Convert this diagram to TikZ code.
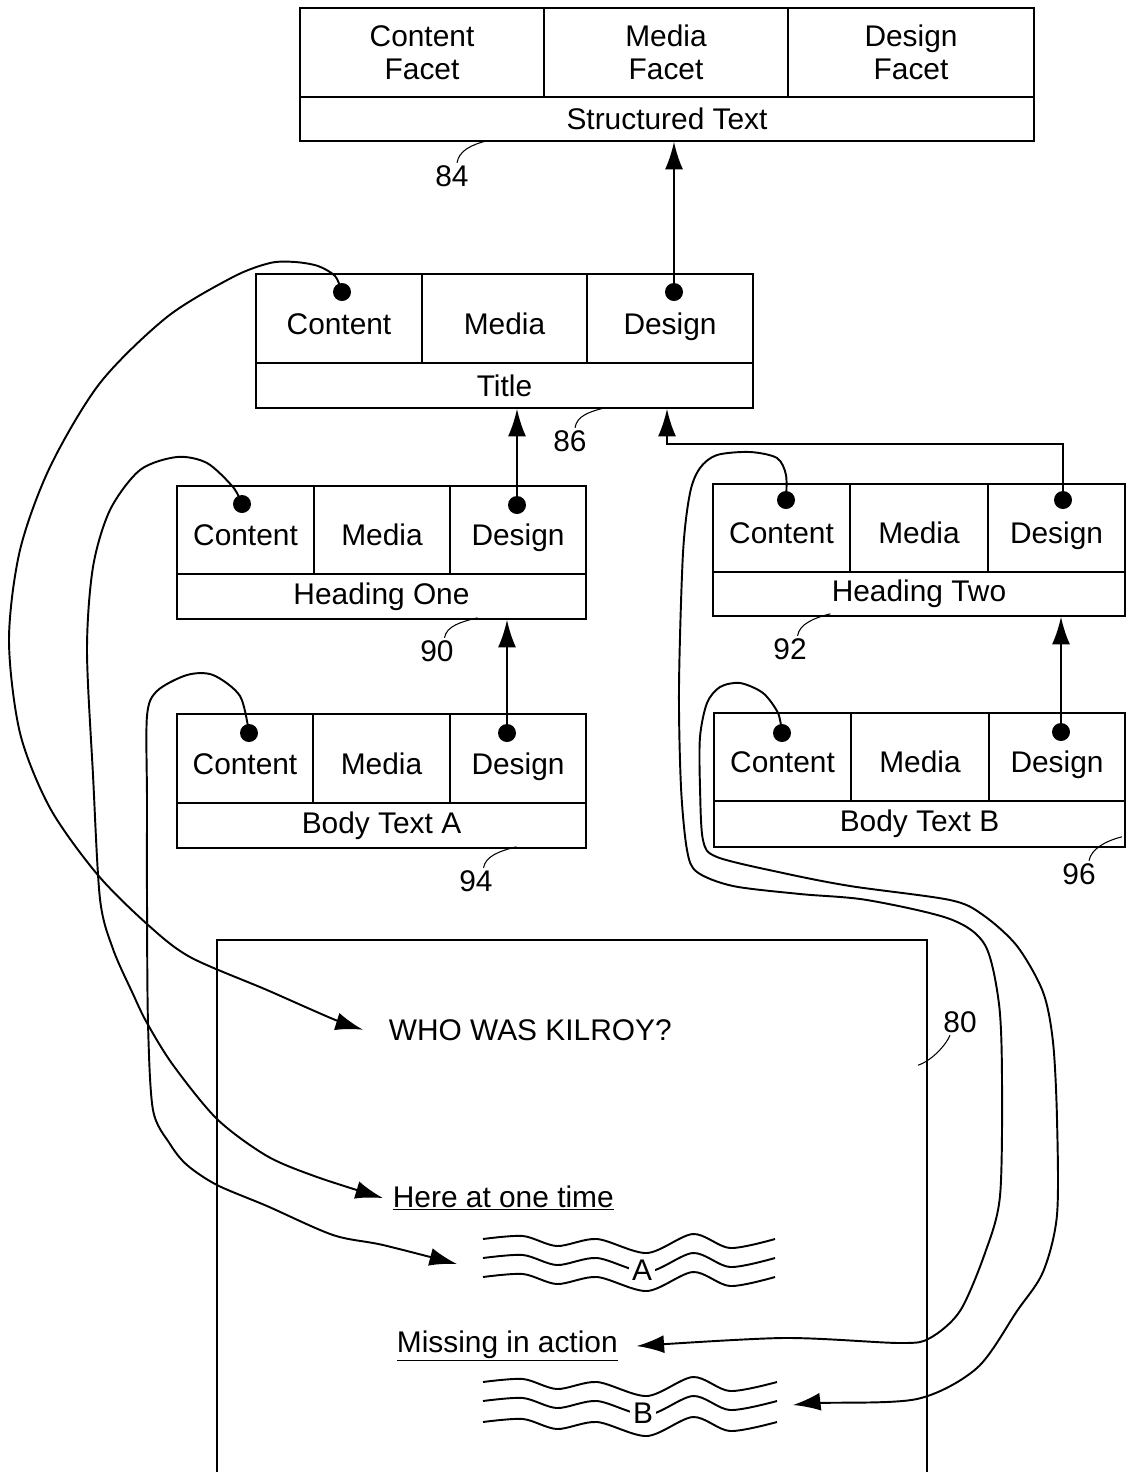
\documentclass[tikz,border=0pt]{standalone}
\usepackage{fontspec}
\setmainfont{Liberation Sans}
\usetikzlibrary{arrows.meta}
\tikzset{every picture/.style={line width=1pt}}

\begin{document}
\begin{tikzpicture}
    [x=0.2mm, y=-0.2mm,
    facet/.style = {rectangle, draw, align=center, inner sep=0pt,
            minimum height=17.8mm, font=\fontsize{17}{19}\selectfont},
    cell/.style = {rectangle, draw, inner sep=0pt, minimum height=17.8mm,
            text height=7.6mm, text depth=1.3mm, font=\fontsize{17}{20}\selectfont},
    bar/.style = {rectangle, draw, inner sep=0pt, minimum height=9mm,
            font=\fontsize{17}{20}\selectfont},
    dot/.style = {circle, fill, inner sep=0pt, minimum size=3.6mm},
    arr/.style = {-{Latex[length=5.5mm, width=3.6mm]}},
    link/.style = {arr, line width=1.1pt},
    wave/.style = {line width=1.1pt},
    lbl/.style = {inner sep=1pt, font=\fontsize{17}{20}\selectfont},
    leader/.style = {line width=0.6pt},
    ]

\useasboundingbox (0,0) rectangle (1126,1472);

% structured text
\node[facet, minimum width=48.8mm] (stc) at (422, 52.5) {Content\\Facet};
\node[facet, minimum width=48.8mm] (stm) at (666, 52.5) {Media\\Facet};
\node[facet, minimum width=49.2mm] (std) at (911, 52.5) {Design\\Facet};
\node[bar, minimum width=146.8mm, minimum height=8.8mm] (st) at (667, 119) {Structured Text};

% title
\node[cell, minimum width=33.2mm] (tc) at (339, 318.5) {Content};
\node[cell, minimum width=33mm] (tm) at (504.5, 318.5) {Media};
\node[cell, minimum width=33.2mm] (td) at (670, 318.5) {Design};
\node[bar, minimum width=99.4mm] (t) at (504.5, 385.5) {Title};

% heading one
\node[cell, minimum width=27.4mm, minimum height=17.6mm] (h1c) at (245.5, 530) {Content};
\node[cell, minimum width=27.2mm, minimum height=17.6mm] (h1m) at (382, 530) {Media};
\node[cell, minimum width=27.2mm, minimum height=17.6mm] (h1d) at (518, 530) {Design};
\node[bar, minimum width=81.8mm] (h1) at (381.5, 596.5) {Heading One};

% heading two
\node[cell, minimum width=27.4mm, minimum height=17.6mm] (h2c) at (781.5, 528) {Content};
\node[cell, minimum width=27.6mm, minimum height=17.6mm] (h2m) at (919, 528) {Media};
\node[cell, minimum width=27.4mm, minimum height=17.6mm] (h2d) at (1056.5, 528) {Design};
\node[bar, minimum width=82.4mm, minimum height=8.8mm] (h2) at (919, 594) {Heading Two};

% body text a
\node[cell, minimum width=27.2mm] (bac) at (245, 758.5) {Content};
\node[cell, minimum width=27.4mm] (bam) at (381.5, 758.5) {Media};
\node[cell, minimum width=27.2mm] (bad) at (518, 758.5) {Design};
\node[bar, minimum width=81.8mm] (ba) at (381.5, 825.5) {Body Text A};

% body text b
\node[cell, minimum width=27.4mm, minimum height=17.6mm] (bbc) at (782.5, 757) {Content};
\node[cell, minimum width=27.6mm, minimum height=17.6mm] (bbm) at (920, 757) {Media};
\node[cell, minimum width=27.2mm, minimum height=17.6mm] (bbd) at (1057, 757) {Design};
\node[bar, minimum width=82.2mm, minimum height=9.2mm] (bb) at (919.5, 824) {Body Text B};

\node[dot] (tcd) at (342, 292) {};
\node[dot] (tdd) at (674, 292) {};
\node[dot] (h1cd) at (242, 504) {};
\node[dot] (h1dd) at (517, 505) {};
\node[dot] (h2cd) at (786, 500) {};
\node[dot] (h2dd) at (1063, 500) {};
\node[dot] (bacd) at (249, 733) {};
\node[dot] (badd) at (507, 733) {};
\node[dot] (bbcd) at (782, 733) {};
\node[dot] (bbdd) at (1061, 732) {};

\draw[arr] (tdd.center) -- (tdd |- st.south);
\draw[arr] (h1dd.center) -- (h1dd |- t.south);
\draw[arr] (badd.center) -- (badd |- h1.south);
\draw[arr] (bbdd.center) -- (bbdd |- h2.south);
\coordinate (tjoin) at (667, 444);
\draw[arr] (h2dd.center) |- (tjoin) -- (tjoin |- t.south);

% display 80
\node[draw, line width=0.9pt, inner sep=0pt, minimum width=142mm, minimum height=112mm] (screen) at (572, 1220) {};
\node[lbl, anchor=base west, inner sep=0pt] (kilroy) at (388, 1040) {WHO WAS KILROY?};
\node[lbl, anchor=base west, inner sep=0pt] (here) at (392, 1207) {\underline{Here at one time}};
\node[lbl, anchor=base west, inner sep=0pt] (missing) at (396, 1352) {\underline{Missing in action}};

\draw[wave] plot[smooth] coordinates {(483,1239) (523,1236) (557,1246) (597,1239) (647,1253) (693,1234) (730,1248) (775,1239)};
\draw[wave] plot[smooth] coordinates {(483,1258) (523,1255) (557,1265) (597,1258) (647,1272) (693,1253) (730,1267) (775,1258)};
\draw[wave] plot[smooth] coordinates {(483,1277) (523,1274) (557,1284) (597,1277) (647,1291) (693,1272) (730,1286) (775,1277)};
\node[lbl, fill=white, inner xsep=2pt, inner ysep=0pt] (la) at (642, 1270) {A};
\draw[wave] plot[smooth] coordinates {(483,1382) (523,1379) (557,1389) (597,1382) (647,1396) (693,1377) (730,1391) (777,1382)};
\draw[wave] plot[smooth] coordinates {(483,1401) (523,1398) (557,1408) (597,1401) (647,1415) (693,1396) (730,1410) (777,1401)};
\draw[wave] plot[smooth] coordinates {(483,1422) (523,1419) (557,1429) (597,1422) (647,1436) (693,1417) (730,1431) (777,1422)};
\node[lbl, fill=white, inner xsep=2pt, inner ysep=0pt] (lb) at (643, 1413) {B};
\coordinate (wavea) at (457, 1264);
\coordinate (waveb) at (793, 1405);

% content links
\draw[link] plot[smooth] coordinates {(tcd.center) (335,276) (318,266) (295,262) (270,263) (233,277) (167,317) (100,383) (50,467) (20,550) (9,640) (20,733) (50,808) (97,874) (147,924) (190,957) (267,990) (333,1019) ([xshift=-5mm]kilroy.west)};
\draw[link] plot[smooth] coordinates {(h1cd.center) (233,487) (207,463) (177,457) (140,470) (110,510) (93,567) (87,650) (93,775) (100,899) (113,949) (133,994) (147,1023) (173,1065) (217,1119) (267,1156) (317,1177) ([xshift=-1.8mm]here.west)};
\draw[link] plot[smooth] coordinates {(bacd.center) (240,696) (213,675) (187,675) (157,691) (147,716) (147,800) (147,899) (148,1023) (153,1110) (170,1144) (187,1165) (217,1185) (267,1206) (333,1235) (383,1245) (wavea)};
\draw[link] plot[smooth] coordinates {(h2cd.center) (786,475) (777,458) (750,452) (717,455) (700,468) (690,493) (683,553) (679,687) (681,787) (687,850) (697,872) (733,886) (800,894) (867,900) (950,919) (985,945) (999,1004) (1002,1080) (1000,1196) (985,1253) (960,1311) (930,1338) (900,1343) (783,1338) ([xshift=3.6mm]missing.east)};
\draw[link] plot[smooth] coordinates {(bbcd.center) (778,713) (763,693) (740,683) (720,687) (707,703) (700,737) (700,787) (703,840) (717,857) (783,873) (850,886) (950,900) (983,915) (1017,946) (1043,992) (1053,1042) (1057,1119) (1057,1215) (1043,1272) (1017,1311) (977,1368) (917,1399) (820,1403) (waveb)};

% reference numerals
\node[lbl] (l84) at (452, 176) {84};
\node[lbl] (l86) at (570, 441) {86};
\node[lbl] (l90) at (437, 651) {90};
\node[lbl] (l92) at (790, 649) {92};
\node[lbl] (l94) at (476, 881) {94};
\node[lbl] (l96) at (1079, 874) {96};
\node[lbl] (l80) at (960, 1022) {80};
\draw[leader] ([xshift=1mm]l84.north) .. controls +(2,-12) and +(-16,4) .. +(30,-22);
\draw[leader] ([xshift=1mm]l86.north) .. controls +(2,-12) and +(-16,4) .. +(30,-20);
\draw[leader] ([xshift=1.5mm]l90.north) .. controls +(2,-12) and +(-16,4) .. +(33,-20);
\draw[leader] ([xshift=1.5mm]l92.north) .. controls +(2,-12) and +(-16,4) .. +(33,-22);
\draw[leader] ([xshift=1.5mm]l94.north) .. controls +(2,-12) and +(-16,4) .. +(33,-21);
\draw[leader] ([xshift=2mm]l96.north) .. controls +(2,-12) and +(-16,4) .. +(33,-24);
\draw[leader] ([xshift=-2mm]l80.south) .. controls +(-3,8) and +(15,-5) .. +(-32,30);

\end{tikzpicture}
\end{document}
